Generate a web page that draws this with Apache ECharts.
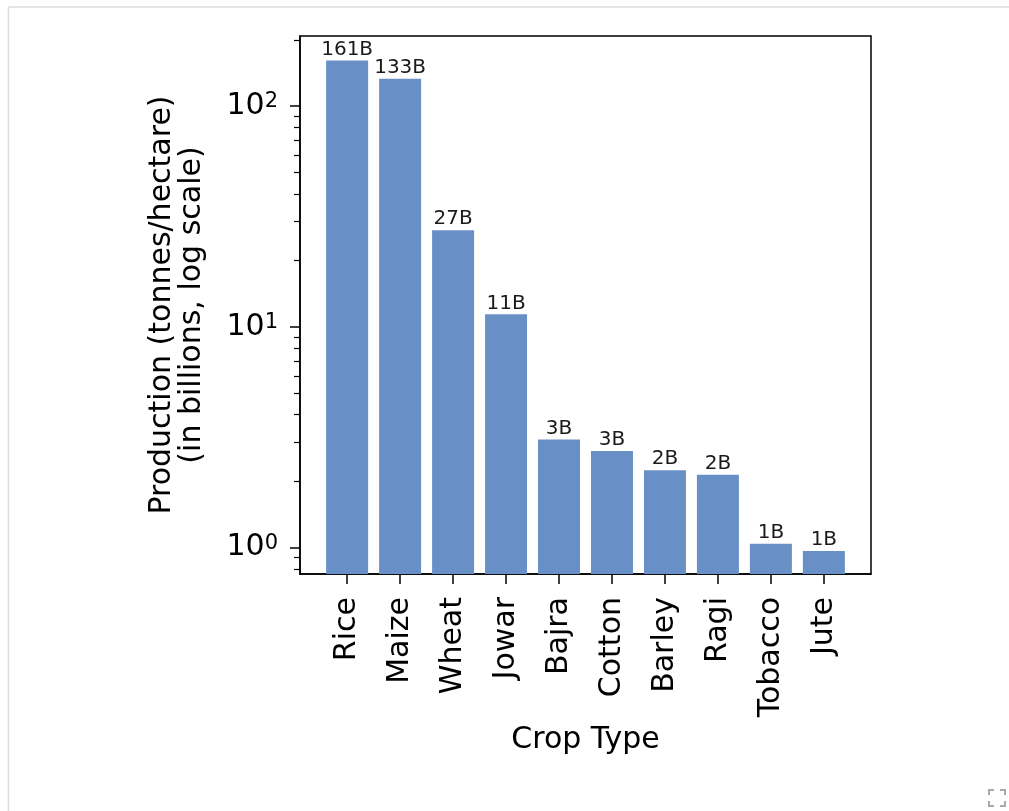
<!DOCTYPE html>
<html>
<head>
<meta charset="utf-8">
<script src="https://cdn.jsdelivr.net/npm/echarts@6/dist/echarts.min.js"></script>
<style>
  html, body { margin: 0; padding: 0; background: #fff; }
  #chart { width: 1009px; height: 811px; }
</style>
</head>
<body>
<div id="chart"></div>
<script>
// 作物 与 产量（十亿）
const crops = ["Rice", "Maize", "Wheat", "Jowar", "Bajra", "Cotton", "Barley", "Ragi", "Tobacco", "Jute"];
const production = [161, 133, 27.4, 11.4, 3.09, 2.74, 2.24, 2.14, 1.04, 0.965];
const majorTicks = [1, 10, 100];
const minorTicks = [0.8, 0.9, 2, 3, 4, 5, 6, 7, 8, 9, 20, 30, 40, 50, 60, 70, 80, 90, 200];
const cropIndex = [0, 1, 2, 3, 4, 5, 6, 7, 8, 9];

const font = "DejaVu Sans";
const yMin = 0.759;
const yMax = 208;
let chart = echarts.init(document.getElementById("chart"));

let option = {
  backgroundColor: "#fff",
  animation: false,
  textStyle: { fontFamily: font },
  grid: {
    left: 300, top: 36, width: 571, height: 538,
    show: true, borderColor: "#000", borderWidth: 1.5, backgroundColor: "transparent",
  },
  xAxis: {
    type: "value",
    min: -0.89,
    max: 9.89,
    name: "Crop Type",
    nameLocation: "middle",
    nameGap: 149,
    nameTextStyle: { fontFamily: font, fontSize: 30, color: "#000" },
    splitLine: { show: false },
    axisLine: { show: true, onZero: false, lineStyle: { color: "#000", width: 1.5 } },
    axisTick: { customValues: cropIndex, length: 10, lineStyle: { color: "#000", width: 1.5 } },
    axisLabel: {
      customValues: cropIndex,
      rotate: 90,
      margin: 23,
      fontFamily: font,
      fontSize: 30,
      color: "#000",
      formatter: (v) => crops[v],
    },
  },
  yAxis: [
    {
      type: "log",
      logBase: 10,
      min: yMin,
      max: yMax,
      startValue: yMin,
      name: "Production (tonnes/hectare)\n(in billions, log scale)",
      nameLocation: "middle",
      nameRotate: 90,
      nameGap: 93,
      nameTextStyle: { fontFamily: font, fontSize: 30, color: "#000", lineHeight: 30 },
      splitLine: { show: false },
      axisLine: { show: true, onZero: false, lineStyle: { color: "#000", width: 1.5 } },
      axisTick: { customValues: majorTicks, length: 10, lineStyle: { color: "#000", width: 1.5 } },
      axisLabel: {
        customValues: majorTicks,
        margin: 22,
        formatter: (v) => "{b|10}{s|" + Math.round(Math.log10(v)) + "}",
        rich: {
          b: { fontFamily: font, fontSize: 30, color: "#000", lineHeight: 30 },
          s: { fontFamily: font, fontSize: 21, color: "#000", verticalAlign: "top", lineHeight: 21 },
        },
      },
    },
    {
      type: "log",
      logBase: 10,
      min: yMin,
      max: yMax,
      position: "left",
      splitLine: { show: false },
      axisLine: { show: false, onZero: false },
      axisLabel: { show: false },
      axisTick: { customValues: minorTicks, length: 6, lineStyle: { color: "#000", width: 1.2 } },
    },
  ],
  series: [
    {
      type: "bar",
      yAxisIndex: 0,
      barWidth: 42,
      data: cropIndex.map((i) => [i, production[i]]),
      itemStyle: { color: "#6890c7" },
      label: {
        show: true,
        position: "top",
        distance: 1,
        fontFamily: font,
        fontSize: 20,
        color: "#1a1a1a",
        formatter: (p) => Math.round(p.value[1]) + "B",
      },
    },
  ],
  graphic: [
    { type: "line", shape: { x1: 8.5, y1: 7, x2: 1009, y2: 7 }, style: { stroke: "#dcdcdc", lineWidth: 1.5 } },
    { type: "line", shape: { x1: 8.5, y1: 7, x2: 8.5, y2: 811 }, style: { stroke: "#dcdcdc", lineWidth: 1.5 } },
    { type: "polyline", shape: { points: [[989, 795], [989, 790], [994, 790]] }, style: { stroke: "#aaa", lineWidth: 2, fill: null } },
    { type: "polyline", shape: { points: [[1000, 790], [1005, 790], [1005, 795]] }, style: { stroke: "#aaa", lineWidth: 2, fill: null } },
    { type: "polyline", shape: { points: [[989, 801], [989, 806], [994, 806]] }, style: { stroke: "#aaa", lineWidth: 2, fill: null } },
    { type: "polyline", shape: { points: [[1000, 806], [1005, 806], [1005, 801]] }, style: { stroke: "#aaa", lineWidth: 2, fill: null } },
  ],
};
chart.setOption(option);
</script>
</body>
</html>
